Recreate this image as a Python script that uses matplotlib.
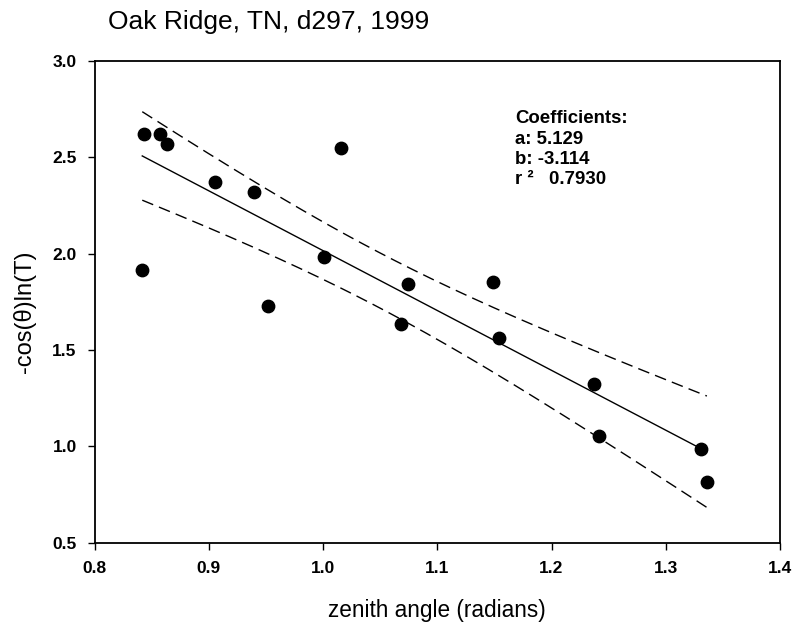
import numpy as np
import matplotlib
matplotlib.use("Agg")
import matplotlib.pyplot as plt

plt.rcParams['font.family'] = ['Liberation Sans', 'DejaVu Sans']

zenith = [0.8436, 0.8576, 0.8637, 0.9057, 0.9398, 1.016, 0.8418, 0.952, 1.001,
          1.074, 1.068, 1.149, 1.154, 1.237, 1.242, 1.331, 1.336]
value = [2.620, 2.620, 2.568, 2.370, 2.319, 2.550, 1.914, 1.730, 1.983,
         1.844, 1.633, 1.851, 1.564, 1.322, 1.056, 0.988, 0.814]

title = "Oak Ridge, TN, d297, 1999"
xlabel = "zenith angle (radians)"
ylabel = "-cos(\u03b8)ln(T)"
coef_lines = ["Coefficients:", "a: 5.129", "b: -3.114", "r \u00b2   0.7930"]
xticks = [0.8, 0.9, 1.0, 1.1, 1.2, 1.3, 1.4]
yticks = [0.5, 1.0, 1.5, 2.0, 2.5, 3.0]

W, H = 796, 625

x = np.array(zenith)
y = np.array(value)
n = len(x)
b, a = np.polyfit(x, y, 1)
resid = y - (a + b * x)
s = np.sqrt(np.sum(resid ** 2) / (n - 2))
xbar = x.mean()
sxx = np.sum((x - xbar) ** 2)
tval = 2.131  # t(0.975, df=15)
xf = np.linspace(x.min(), x.max(), 200)
yf = a + b * xf
se = s * np.sqrt(1.0 / n + (xf - xbar) ** 2 / sxx)

fig = plt.figure(figsize=(W / 100, H / 100), dpi=100)
ax = fig.add_axes([94.5 / W, 1 - 542.7 / H, (780 - 94.5) / W, (542.7 - 61) / H])

ax.plot(xf, yf, color='black', lw=1.0)
l1, = ax.plot(xf, yf + tval * se, color='black', lw=1.0)
l2, = ax.plot(xf, yf - tval * se, color='black', lw=1.0)
for l in (l1, l2):
    l.set_dashes([8.5, 4.5])
ax.scatter(x, y, s=80, color='black', zorder=3)

ax.set_xlim(0.8, 1.4)
ax.set_ylim(0.5, 3.0)
ax.set_xticks(xticks)
ax.set_yticks(yticks)
ax.set_xticklabels([f"{v:.1f}" for v in xticks], fontweight='bold', fontsize=12.5)
ax.set_yticklabels([f"{v:.1f}" for v in yticks], fontweight='bold', fontsize=12.5)
ax.tick_params(direction='out', length=5, width=1.0)
ax.tick_params(axis='x', pad=8.5)
ax.tick_params(axis='y', pad=7.8)
for sp in ax.spines.values():
    sp.set_linewidth(1.3)

fig.text(437.3 / W, 1 - 617 / H, xlabel, fontsize=16.3, ha='center', va='baseline')
fig.text(25 / W, 1 - 312 / H, ylabel, fontsize=17, ha='center', va='center',
         rotation=90)

fig.text(108 / W, 1 - 29.3 / H, title, fontsize=19, va='baseline', ha='left')
for i, line in enumerate(coef_lines):
    fig.text(515 / W, 1 - (123.3 + 20.3 * i) / H, line, fontsize=13.4,
             fontweight='bold', va='baseline', ha='left')

fig.savefig("out.png", dpi=100)
